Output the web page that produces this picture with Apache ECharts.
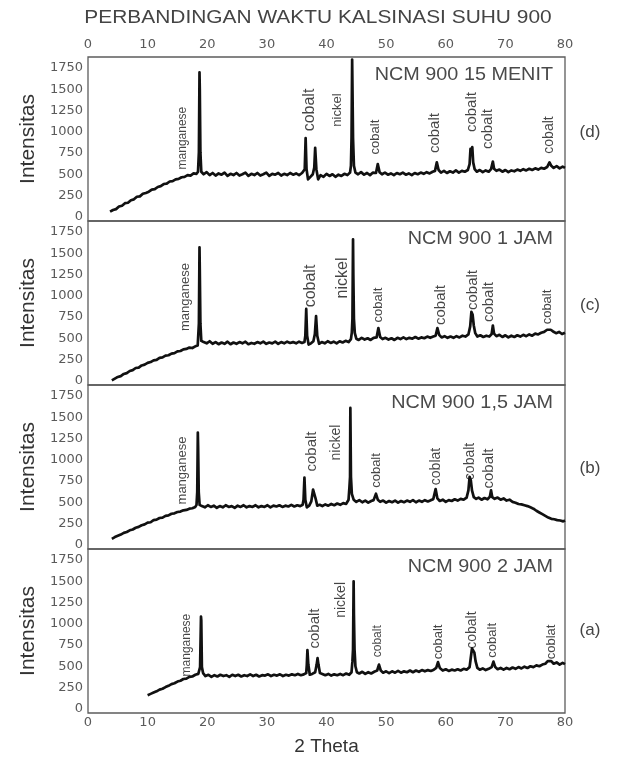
<!DOCTYPE html>
<html>
<head>
<meta charset="utf-8">
<title>Perbandingan waktu kalsinasi suhu 900</title>
<script src="https://cdn.jsdelivr.net/npm/echarts@6/dist/echarts.min.js"></script>
<style>
  html, body { margin: 0; padding: 0; background: #ffffff; }
  #chart { width: 621px; height: 758px; }
</style>
</head>
<body>
<div id="chart"></div>
<script>
// ---- text ----
const mainTitle = 'PERBANDINGAN WAKTU KALSINASI SUHU 900';
const panelTitles = ['NCM 900 15 MENIT', 'NCM 900 1 JAM', 'NCM 900 1,5 JAM', 'NCM 900 2 JAM'];
const panelTags = ['(d)', '(c)', '(b)', '(a)'];
const xAxisName = '2 Theta';
const yAxisName = 'Intensitas';

// ---- tick values ----
const xTickStep = 10;
const yTickValues = [0, 250, 500, 750, 1000, 1250, 1500, 1750];

// ---- XRD scans: [2 theta, intensity] ----
const scan15Menit = [
  [3.7,60],[4.2,80],[4.7,90],[5.2,120],[5.7,130],[6.2,160],[6.7,165],[7.2,195],[7.7,205],[8.2,235],[8.7,240],[9.2,270],[9.7,280],[10.2,295],[10.7,320],[11.2,325],[11.7,350],[12.2,360],[12.7,385],[13.2,390],[13.7,415],[14.2,420],[14.7,440],[15.2,445],[15.7,465],[16.2,470],[16.7,490],[17.2,485],[17.7,510],[18.2,505],[18.45,530],
  [18.6,760],[18.7,1700],[18.75,1500],[18.85,760],[19.0,530],
  [19.4,500],[19.9,525],[20.4,490],[20.9,515],[21.4,485],[21.9,510],[22.4,495],[22.9,520],[23.4,480],[23.9,505],[24.4,490],[24.9,515],[25.4,485],[25.9,500],[26.4,520],[26.9,480],[27.4,505],[27.9,490],[28.4,515],[28.9,485],[29.4,500],[29.9,520],[30.4,480],[30.9,505],[31.4,495],[31.9,515],[32.4,485],[32.9,505],[33.4,490],[33.9,515],[34.4,495],[34.9,510],[35.4,490],[35.9,515],[36.2,505],
  [36.35,560],[36.5,925],[36.65,560],[36.9,440],[37.3,470],[37.7,500],[37.95,580],[38.1,810],[38.3,560],[38.6,440],[39.0,490],
  [39.5,470],[40.0,505],[40.5,480],[41.0,500],[41.5,470],[42.0,495],[42.5,480],[43.0,505],[43.5,490],[43.95,520],
  [44.1,600],[44.2,925],[44.3,1850],[44.35,1555],[44.45,925],[44.6,600],[44.85,520],
  [45.3,500],[45.8,525],[46.3,495],[46.8,515],[47.3,490],[47.8,520],[48.3,515],[48.6,620],[48.9,525],[49.3,500],[49.8,520],[50.3,495],[50.8,510],[51.3,490],[51.8,515],[52.3,500],[52.8,520],[53.3,495],[53.8,510],[54.3,490],[54.8,515],[55.3,500],[55.8,520],[56.3,505],[56.8,525],[57.3,510],[57.8,530],[58.2,540],[58.5,640],[58.8,550],[59.2,520],[59.7,540],[60.2,515],[60.7,535],[61.2,520],[61.7,545],[62.2,520],[62.7,540],[63.2,530],[63.7,550],
  [64.0,620],[64.15,800],[64.3,760],[64.45,820],[64.6,640],[64.85,560],[65.2,530],
  [65.7,550],[66.2,525],[66.7,545],[67.2,530],[67.6,560],[67.9,650],[68.1,565],[68.5,540],[69.0,555],[69.5,530],[70.0,550],[70.5,525],[71.0,545],[71.5,535],[72.0,555],[72.5,540],[73.0,560],[73.5,545],[74.0,565],[74.5,550],[75.0,570],[75.5,555],[76.0,575],[76.5,565],[77.0,585],[77.4,640],[77.7,600],[78.1,575],[78.6,595],[79.1,570],[79.6,590],[80.0,575]
];

const scan1Jam = [
  [4,5],[4.5,25],[5,45],[5.5,55],[6,80],[6.5,90],[7,115],[7.5,125],[8,150],[8.5,155],[9,180],[9.5,190],[10,210],[10.5,220],[11,240],[11.5,245],[12,270],[12.5,275],[13,295],[13.5,300],[14,320],[14.5,325],[15,345],[15.5,350],[16,370],[16.5,375],[17,390],[17.5,385],[18,405],[18.4,415],
  [18.6,675],[18.7,1570],[18.75,1300],[18.85,675],[19.0,470],
  [19.4,455],[19.9,440],[20.4,465],[20.9,435],[21.4,455],[21.9,430],[22.4,450],[22.9,435],[23.4,460],[23.9,430],[24.4,450],[24.9,435],[25.4,455],[25.9,440],[26.4,460],[26.9,430],[27.4,445],[27.9,435],[28.4,455],[28.9,440],[29.4,460],[29.9,435],[30.4,450],[30.9,440],[31.4,460],[31.9,435],[32.4,455],[32.9,440],[33.4,460],[33.9,445],[34.4,455],[34.9,440],[35.4,460],[35.9,445],[36.3,455],
  [36.45,530],[36.6,845],[36.75,530],[37.0,425],[37.4,440],[37.8,465],[38.05,550],[38.25,760],[38.45,530],[38.75,435],[39.2,455],
  [39.7,440],[40.2,465],[40.7,445],[41.2,460],[41.7,440],[42.2,465],[42.7,450],[43.2,470],[43.7,455],[44.1,490],
  [44.25,570],[44.35,730],[44.45,1665],[44.5,1250],[44.6,730],[44.75,560],[45.0,495],
  [45.4,480],[45.9,505],[46.4,485],[46.9,500],[47.4,480],[47.9,505],[48.4,510],[48.7,620],[49.0,515],[49.4,490],[49.9,505],[50.4,485],[50.9,500],[51.4,480],[51.9,505],[52.4,490],[52.9,510],[53.4,490],[53.9,505],[54.4,495],[54.9,515],[55.4,495],[55.9,510],[56.4,500],[56.9,520],[57.4,505],[57.9,520],[58.3,530],[58.6,620],[58.9,540],[59.3,510],[59.8,525],[60.3,505],[60.8,520],[61.3,505],[61.8,525],[62.3,510],[62.8,530],[63.3,520],[63.8,545],
  [64.1,640],[64.3,810],[64.5,780],[64.7,650],[64.95,560],[65.3,520],
  [65.8,535],[66.3,515],[66.8,530],[67.3,520],[67.7,550],[67.9,650],[68.1,555],[68.5,525],[69.0,540],[69.5,515],[70.0,535],[70.5,510],[71.0,530],[71.5,515],[72.0,535],[72.5,520],[73.0,540],[73.5,525],[74.0,545],[74.5,530],[75.0,555],[75.5,545],[76.0,565],[76.5,575],[77.0,600],[77.3,620],[77.6,600],[78.0,580],[78.5,560],[79.0,575],[79.5,550],[80.0,565]
];

const scan15Jam = [
  [4,70],[4.5,90],[5,105],[5.5,120],[6,140],[6.5,150],[7,170],[7.5,180],[8,200],[8.5,210],[9,230],[9.5,240],[10,260],[10.5,265],[11,290],[11.5,295],[12,315],[12.5,320],[13,340],[13.5,345],[14,365],[14.5,370],[15,385],[15.5,390],[16,405],[16.5,410],[17,425],[17.5,430],[18,445],
  [18.2,470],[18.32,620],[18.42,1320],[18.47,1150],[18.57,620],[18.72,470],
  [19.1,455],[19.6,440],[20.1,465],[20.6,445],[21.1,460],[21.6,435],[22.1,455],[22.6,440],[23.1,465],[23.6,445],[24.1,455],[24.6,435],[25.1,460],[25.6,445],[26.1,465],[26.6,440],[27.1,455],[27.6,445],[28.1,465],[28.6,440],[29.1,455],[29.6,445],[30.1,465],[30.6,440],[31.1,460],[31.6,450],[32.1,465],[32.6,445],[33.1,460],[33.6,450],[34.1,470],[34.6,450],[35.1,465],[35.6,455],[36.0,470],
  [36.15,530],[36.3,790],[36.45,530],[36.7,440],[37.1,460],[37.45,510],[37.75,650],[37.95,670],[38.15,550],[38.45,460],[38.85,470],
  [39.3,455],[39.8,475],[40.3,460],[40.8,480],[41.3,465],[41.8,485],[42.3,470],[42.8,490],[43.3,480],[43.7,530],
  [43.85,680],[43.95,800],[44.0,1610],[44.1,800],[44.25,600],[44.55,530],
  [45.0,505],[45.5,525],[46.0,500],[46.5,520],[47.0,495],[47.5,515],[47.9,525],[48.3,600],[48.6,530],[49.0,505],[49.5,520],[50.0,495],[50.5,515],[51.0,500],[51.5,520],[52.0,495],[52.5,515],[53.0,500],[53.5,520],[54.0,505],[54.5,525],[55.0,500],[55.5,520],[56.0,505],[56.5,525],[57.0,510],[57.5,525],[57.9,535],[58.3,655],[58.6,545],[59.0,515],[59.5,530],[60.0,505],[60.5,525],[61.0,515],[61.5,535],[62.0,520],[62.5,540],[63.0,530],[63.5,555],
  [63.8,640],[64.0,800],[64.2,760],[64.4,640],[64.7,560],[65.1,540],
  [65.5,555],[66.0,530],[66.5,550],[67.0,535],[67.4,565],[67.6,640],[67.8,560],[68.2,540],[68.7,555],[69.2,530],[69.7,545],[70.2,520],[70.7,530],[71.2,505],[71.7,495],[72.2,480],[72.7,475],[73.2,465],[73.7,455],[74.2,440],[74.7,425],[75.2,400],[75.7,380],[76.2,360],[76.7,340],[77.2,320],[77.7,305],[78.2,300],[78.7,290],[79.2,285],[79.7,275],[80.0,285]
];

const scan2Jam = [
  [10,160],[10.5,175],[11,190],[11.5,205],[12,225],[12.5,235],[13,255],[13.5,270],[14,290],[14.5,300],[15,320],[15.5,330],[16,350],[16.5,355],[17,375],[17.5,380],[18,400],[18.5,410],
  [18.8,490],[18.95,1085],[19.0,1040],[19.1,490],[19.3,420],
  [19.7,385],[20.2,400],[20.7,375],[21.2,395],[21.7,380],[22.2,400],[22.7,385],[23.2,395],[23.7,375],[24.2,400],[24.7,385],[25.2,400],[25.7,380],[26.2,395],[26.7,385],[27.2,405],[27.7,385],[28.2,400],[28.7,380],[29.2,395],[29.7,390],[30.2,405],[30.7,385],[31.2,400],[31.7,390],[32.2,405],[32.7,385],[33.2,400],[33.7,390],[34.2,405],[34.7,395],[35.2,410],[35.7,395],[36.2,405],[36.6,420],
  [36.7,520],[36.8,690],[36.95,520],[37.2,400],[37.6,410],[38.1,430],[38.35,520],[38.5,595],[38.65,520],[38.9,420],[39.3,410],
  [39.8,395],[40.3,410],[40.8,390],[41.3,405],[41.8,395],[42.3,410],[42.8,395],[43.3,415],[43.8,400],[44.2,430],
  [44.35,560],[44.45,700],[44.55,1500],[44.6,1110],[44.7,700],[44.85,500],[45.1,430],
  [45.5,415],[46.0,435],[46.5,410],[47.0,430],[47.5,415],[48.0,435],[48.5,450],[48.8,520],[49.1,450],[49.5,425],[50.0,440],[50.5,420],[51.0,440],[51.5,425],[52.0,445],[52.5,425],[53.0,440],[53.5,430],[54.0,450],[54.5,430],[55.0,450],[55.5,435],[56.0,455],[56.5,440],[57.0,455],[57.5,445],[58.0,460],[58.4,480],[58.7,550],[59.0,480],[59.5,450],[60.0,465],[60.5,445],[61.0,460],[61.5,450],[62.0,465],[62.5,450],[63.0,470],[63.5,460],[64.0,490],
  [64.2,600],[64.4,710],[64.6,695],[64.8,660],[65.0,560],[65.3,480],[65.7,460],
  [66.2,475],[66.7,455],[67.2,470],[67.7,490],[68.0,555],[68.3,490],[68.7,465],[69.2,480],[69.7,460],[70.2,480],[70.7,465],[71.2,485],[71.7,470],[72.2,490],[72.7,475],[73.2,495],[73.7,480],[74.2,500],[74.7,490],[75.2,510],[75.7,500],[76.2,520],[76.7,530],[77.1,560],[77.4,575],[77.7,560],[78.1,530],[78.6,545],[79.1,520],[79.6,540],[80.0,525]
];

// ---- peak annotations: [2 theta, intensity, phase] ----
const peaks15Menit = [[15.9,926,'manganese'],[37.2,1256,'cobalt'],[41.8,1256,'nickel'],[48.2,938,'cobalt'],[58.2,985,'cobalt'],[64.3,1232,'cobalt'],[67.0,1032,'cobalt'],[77.3,962,'cobalt']];
const peaks1Jam    = [[16.4,985,'manganese'],[37.3,1115,'cobalt'],[42.7,1209,'nickel'],[48.7,891,'cobalt'],[59.2,891,'cobalt'],[64.6,1068,'cobalt'],[67.3,926,'cobalt'],[77.0,868,'cobalt']];
const peaks15Jam   = [[15.9,874,'manganese'],[37.5,1097,'cobalt'],[41.7,1203,'nickel'],[48.4,874,'cobalt'],[58.4,921,'coblat'],[64.1,980,'cobalt'],[67.3,897,'cobalt']];
const peaks2Jam    = [[16.5,749,'manganese'],[38.0,944,'cobalt'],[42.5,1281,'nickel'],[48.6,794,'cobalt'],[58.7,786,'cobalt'],[64.5,925,'cobalt'],[67.8,805,'cobalt'],[77.7,786,'coblat']];

// ---- styling ----
const SANS = '"Liberation Sans", Arial, sans-serif';
const DIGITS = '"DejaVu Sans", "Liberation Sans", sans-serif';
const PANEL_TOP = 57, PANEL_H = 164, PLOT_LEFT = 88, PLOT_RIGHT = 56;

const panels = [
  { title: panelTitles[0], tag: panelTags[0], scan: scan15Menit, peaks: peaks15Menit, peakFont: [12,16,13,13,15,15,15,14], tagY: 132 },
  { title: panelTitles[1], tag: panelTags[1], scan: scan1Jam,    peaks: peaks1Jam,    peakFont: [13,16,16,13,15,15,15,13], tagY: 305 },
  { title: panelTitles[2], tag: panelTags[2], scan: scan15Jam,   peaks: peaks15Jam,   peakFont: [13,15,14,13,14,14,15],    tagY: 468 },
  { title: panelTitles[3], tag: panelTags[3], scan: scan2Jam,    peaks: peaks2Jam,    peakFont: [12,15,14,12,13,14,13,13], tagY: 630 }
];
const last = panels.length - 1;

const chart = echarts.init(document.getElementById('chart'), null, { renderer: 'canvas' });

const option = {
  animation: false,
  backgroundColor: '#ffffff',
  grid: panels.map((p, i) => ({
    left: PLOT_LEFT, right: PLOT_RIGHT, top: PANEL_TOP + PANEL_H * i, height: PANEL_H,
    show: true, borderColor: '#5c5c5c', borderWidth: 1.3, backgroundColor: 'transparent'
  })),
  xAxis: panels.map((p, i) => ({
    gridIndex: i, type: 'value', min: 0, max: 80, interval: xTickStep,
    position: i === 0 ? 'top' : 'bottom',
    axisLine: { show: false }, axisTick: { show: false }, splitLine: { show: false },
    axisLabel: { show: i === 0 || i === last, fontFamily: DIGITS, fontSize: 13, color: '#5a5a5a', margin: i === 0 ? 6 : 3 },
    name: i === last ? xAxisName : '',
    nameLocation: 'middle', nameGap: 24,
    nameTextStyle: { fontFamily: SANS, fontSize: 19, color: '#333' }
  })),
  yAxis: panels.map((p, i) => ({
    gridIndex: i, type: 'value', min: -50, max: 1880,
    axisLine: { show: false }, axisTick: { show: false }, splitLine: { show: false },
    axisLabel: {
      customValues: yTickValues, formatter: v => String(v),
      fontFamily: DIGITS, fontSize: 13, color: '#5a5a5a', margin: 5
    },
    name: yAxisName, nameLocation: 'middle', nameRotate: 90, nameGap: 47,
    nameTextStyle: { fontFamily: SANS, fontSize: 21, color: '#333' }
  })),
  series: panels.flatMap((p, i) => [
    {
      type: 'line', xAxisIndex: i, yAxisIndex: i, data: p.scan,
      symbol: 'none', silent: true, z: 2,
      lineStyle: { color: '#111', width: 2.7, join: 'round' }
    },
    {
      type: 'scatter', xAxisIndex: i, yAxisIndex: i, symbolSize: 0, silent: true, z: 3,
      data: p.peaks.map((pk, k) => ({ value: [pk[0], pk[1]], name: pk[2], label: { fontSize: p.peakFont[k] } })),
      label: { show: true, formatter: '{b}', rotate: 90, position: 'inside', color: '#161616', fontFamily: SANS }
    }
  ]),
  graphic: [
    {
      type: 'text', x: 318, y: 18, scaleX: 1.1,
      style: { text: mainTitle, fill: '#444', fontFamily: SANS, fontSize: 19, align: 'center', verticalAlign: 'middle' }
    },
    ...panels.map((p, i) => ({
      type: 'text', x: 553, y: PANEL_TOP + PANEL_H * i + 18, scaleX: 1.1,
      style: { text: p.title, fill: '#4a4a4a', fontFamily: SANS, fontSize: 18, align: 'right', verticalAlign: 'middle' }
    })),
    ...panels.map(p => ({
      type: 'text', x: 590, y: p.tagY,
      style: { text: p.tag, fill: '#444', fontFamily: SANS, fontSize: 17, align: 'center', verticalAlign: 'middle' }
    }))
  ]
};

chart.setOption(option);
</script>
</body>
</html>
